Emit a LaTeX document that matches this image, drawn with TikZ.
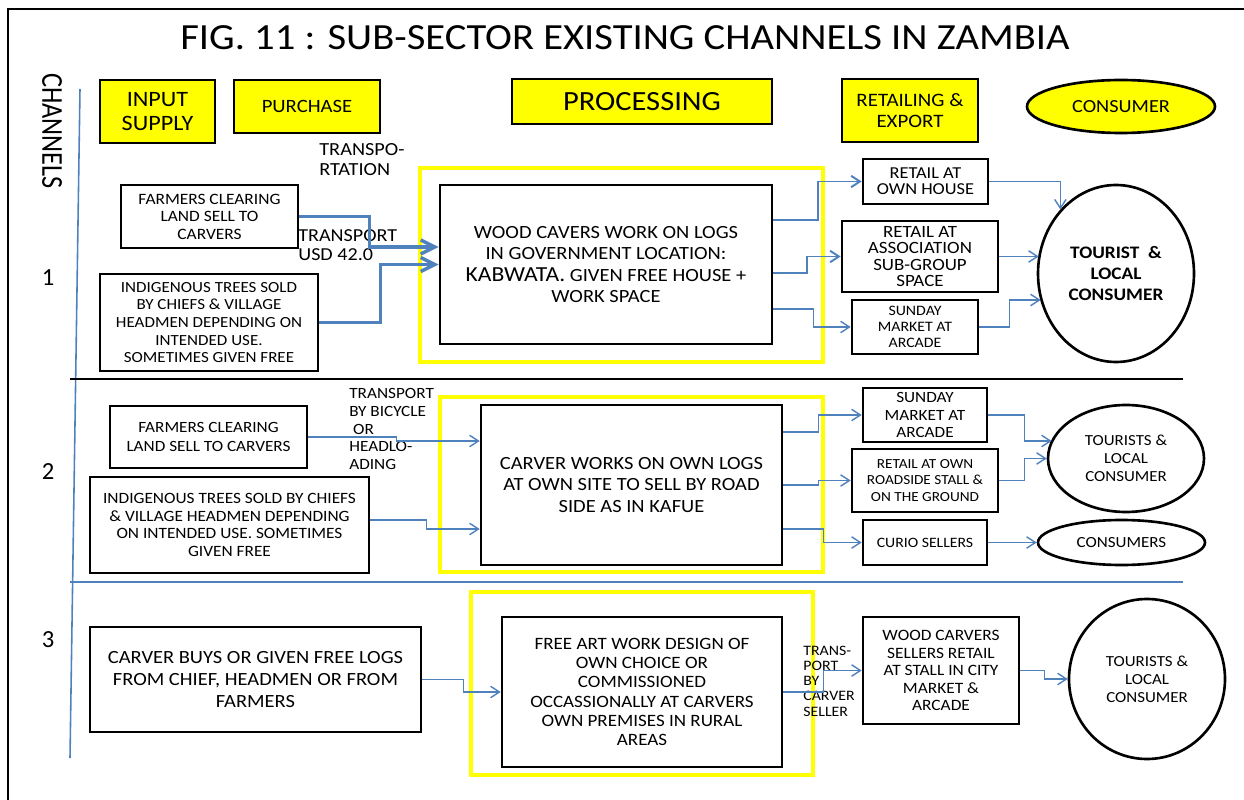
\documentclass[tikz,border=0pt]{standalone}
\usepackage{fontspec}
\setmainfont{Carlito}[FakeStretch=1.1]
\newfontfamily\plainfont{Carlito}
\usetikzlibrary{calc,arrows.meta,shapes.geometric}
\definecolor{lineblue}{HTML}{4F81BD}
\definecolor{hiyellow}{HTML}{FFFF00}
\tikzset{
  sz/.style 2 args={minimum width=#1*0.02cm, minimum height=#2*0.02cm},
  fs/.style 2 args={font=\fontsize{#1}{#2}\selectfont},
  box/.style={draw=black, fill=white, line width=1.5pt, inner sep=0pt, align=center},
  head/.style={box, fill=hiyellow},
  ylwbox/.style={draw=hiyellow, line width=2.8pt, inner sep=0pt},
  oval/.style={ellipse, draw=black, line width=1.5pt, inner sep=0pt, align=center},
  flow/.style={draw=lineblue, line width=0.8pt, -{Straight Barb[length=5pt,width=6.5pt]}},
  midflow/.style={flow, line width=1.1pt},
  thickflow/.style={draw=lineblue, line width=2pt, -{Straight Barb[length=8pt,width=8pt]}},
  note/.style={align=left, anchor=west, inner sep=0pt},
}

\begin{document}
\begin{tikzpicture}[x=0.02cm, y=-0.02cm]
			%%%%% START %%%%%
			\useasboundingbox (0,0) rectangle (1244,800);
			\draw[line width=1.3pt] (8,800) -- (8,9) -- (1244,9);
			
			\node[fs={21}{24}] (title) at (625,38) {FIG. 11 : SUB-SECTOR EXISTING CHANNELS IN ZAMBIA};
			\node[font=\plainfont\fontsize{15}{18}\selectfont, rotate=-90] (chan) at (52,131) {\scalebox{1}[1.15]{CHANNELS}};
			\draw[lineblue, line width=0.9pt] (80,89) -- (70,758);
			
			\node[font=\plainfont\fontsize{14}{16}\selectfont] (n1) at (48,278) {1};
			\node[font=\plainfont\fontsize{14}{16}\selectfont] (n2) at (48,472) {2};
			\node[font=\plainfont\fontsize{14}{16}\selectfont] (n3) at (48,640) {3};
			
			% headings
			\node[head, sz={115}{63}, fs={12.5}{13.5}] (input) at (157.5,111.5) {INPUT\\SUPPLY};
			\node[head, sz={146}{53}, fs={10.7}{13}] (purchase) at (307,106.5) {PURCHASE};
			\node[head, sz={260}{45}, fs={15.8}{17}] (processing) at (642,101.5) {PROCESSING};
			\node[head, sz={136}{63}, fs={10.8}{12}] (retailing) at (910,110.5) {RETAILING \&\\EXPORT};
			\node[oval, fill=hiyellow, sz={188}{53}, fs={10.5}{13}] (consumer) at (1121,106.5) {CONSUMER};
			
			%% channel 1
			\node[note, fs={10.5}{11.3}] (transpo) at (319,160) {TRANSPO-\\RTATION};
			\node[box, sz={177}{63}, fs={9}{10}] (farm1) at (209.5,216.5) {FARMERS CLEARING\\LAND SELL TO\\CARVERS};
			\node[box, sz={218}{97}, fs={8.8}{10}] (indig1) at (209,322.5) {INDIGENOUS TREES SOLD\\BY CHIEFS \& VILLAGE\\HEADMEN DEPENDING ON\\INTENDED USE.\\SOMETIMES GIVEN FREE};
			\node[note, fs={10.4}{10.8}] (usd) at (298,245) {TRANSPORT\\USD 42.0};
			
			\node[ylwbox, sz={403}{194}] (proc1) at (621.5,265) {};
			\node[box, sz={332}{159}, fs={10.6}{12}] (wood) at (606,264.5) {WOOD CAVERS WORK ON LOGS\\IN GOVERNMENT LOCATION:\\{\fontsize{12.2}{12}\selectfont KABWATA.} GIVEN FREE HOUSE +\\WORK SPACE};
			
			\node[box, sz={125}{45}, fs={9.5}{9.2}] (own) at (925.5,181.5) {RETAIL AT\\OWN HOUSE};
			\node[box, sz={156}{71}, fs={9.8}{9.2}] (assoc) at (920,256.5) {RETAIL AT\\ASSOCIATION\\SUB-GROUP\\SPACE};
			\node[box, sz={126}{54}, fs={8.2}{9}] (sun1) at (915,327) {SUNDAY\\MARKET AT\\ARCADE};
			\node[oval, sz={156}{177}, fs={7.9}{10.2}, font=\bfseries] (tour1) at (1116,273.5) {TOURIST \ \&\\LOCAL\\CONSUMER};
			
			\draw[thickflow] (farm1.east) -- ++(70,0) |- ($(wood.west)+(0,-17.5)$);
			\draw[thickflow] (indig1.east) -- ++(61,0) |- (wood.west);
			
			\draw[midflow] ($(wood.east)+(0,-44.5)$) -- ++(45,0) |- (own.west);
			\draw[midflow] ($(wood.east)+(0,8.5)$) -- ++(34,0) |- (assoc.west);
			\draw[flow] ($(wood.east)+(0,44.5)$) -- ++(40,0) |- (sun1.west);
			
			\draw[flow] (own.east) -| (tour1.131);
			\draw[flow] (assoc.east) -- ($(tour1.west |- assoc.east)+(2,0)$);
			\draw[flow] (sun1.east) -- ++(30,0) |- ($(tour1.west)+(4,26.5)$);
			
			\draw[line width=1.7pt] (70,379) -- (1183,379);
			
			%% channel 2
			\node[box, sz={197}{62}, fs={8.9}{10.3}] (farm2) at (208.5,437) {FARMERS CLEARING\\LAND SELL TO CARVERS};
			\node[box, sz={279}{96}, fs={8.95}{9.9}] (indig2) at (229.5,525) {INDIGENOUS TREES SOLD BY CHIEFS\\\& VILLAGE HEADMEN DEPENDING\\ON INTENDED USE. SOMETIMES\\GIVEN FREE};
			\node[note, fs={8.9}{10}] (bicycle) at (349,429) {TRANSPORT\\BY BICYCLE\\\ OR\\HEADLO-\\ADING};
			
			\node[ylwbox, sz={383}{175}] (proc2) at (631.5,484.5) {};
			\node[box, sz={301}{160}, fs={10.6}{12.3}] (carver) at (631.5,485) {CARVER WORKS ON OWN LOGS\\AT OWN SITE TO SELL BY ROAD\\SIDE AS IN KAFUE};
			
			\node[box, sz={124}{54}, fs={8.9}{10.2}] (sun2) at (925,415) {SUNDAY\\MARKET AT\\ARCADE};
			\node[box, sz={146}{63}, fs={7.9}{9.2}] (road) at (925,480.5) {RETAIL AT OWN\\ROADSIDE STALL \&\\ON THE GROUND};
			\node[box, sz={124}{45}, fs={8.15}{10}] (curio) at (925,542.5) {CURIO SELLERS};
			\node[oval, sz={156}{107}, fs={8.75}{10.3}] (tour2) at (1126,458.5) {TOURISTS \&\\LOCAL\\CONSUMER};
			\node[oval, sz={167}{45}, fs={8.8}{10.3}] (cons) at (1121.5,542.5) {CONSUMERS};
			
			\draw[flow] (farm2.east) -- ++(88,0) |- ($(carver.west)+(0,-44)$);
			\draw[flow] ($(indig2.east)+(0,-5)$) -- ++(56,0) |- ($(carver.west)+(0,44)$);
			
			\draw[flow] ($(carver.east)+(0,-53)$) -- ++(35,0) |- (sun2.west);
			\draw[flow] (carver.east) -- ++(35,0) |- (road.west);
			\draw[flow] ($(carver.east)+(0,44)$) -- ++(40,0) |- (curio.west);
			
			\draw[flow] (sun2.east) -- ++(36,0) |- ($(tour2.west)+(5,-17.5)$);
			\draw[flow] (road.east) -- ++(25,0) |- (tour2.west);
			\draw[flow] (curio.east) -- (cons.west);
			
			\draw[lineblue, line width=0.9pt] (70,582) -- (1183,582);
			
			%% channel 3
			\node[box, sz={331}{105}, fs={10.6}{12.3}] (buys) at (255.5,679.5) {CARVER BUYS OR GIVEN FREE LOGS\\FROM CHIEF, HEADMEN OR FROM\\FARMERS};
			
			\node[ylwbox, sz={342}{183}] (proc3) at (642,683.5) {};
			\node[box, sz={280}{150}, fs={9.85}{11}] (art) at (642,692) {FREE ART WORK DESIGN OF\\OWN CHOICE OR\\COMMISSIONED\\OCCASSIONALLY AT CARVERS\\OWN PREMISES IN RURAL\\AREAS};
			\node[note, fs={8.2}{8.7}] (bycarver) at (803,681) {TRANS-\\PORT\\BY\\CARVER\\SELLER};
			
			\node[box, sz={156}{107}, fs={9}{10}] (sellers) at (941,670.5) {WOOD CARVERS\\SELLERS RETAIL\\AT STALL IN CITY\\MARKET \&\\ARCADE};
			\node[oval, sz={156}{160}, fs={8.75}{10.3}] (tour3) at (1147,679) {TOURISTS \&\\LOCAL\\CONSUMER};
			
			\draw[flow] (buys.east) -- ++(41,0) |- (art.west);
			\draw[flow] (art.east) -- ++(40,0) |- (sellers.west);
			\draw[flow] (sellers.east) -- ++(24,0) |- (tour3.west);
			
			%%%%% END %%%%%
\end{tikzpicture}
\end{document}
